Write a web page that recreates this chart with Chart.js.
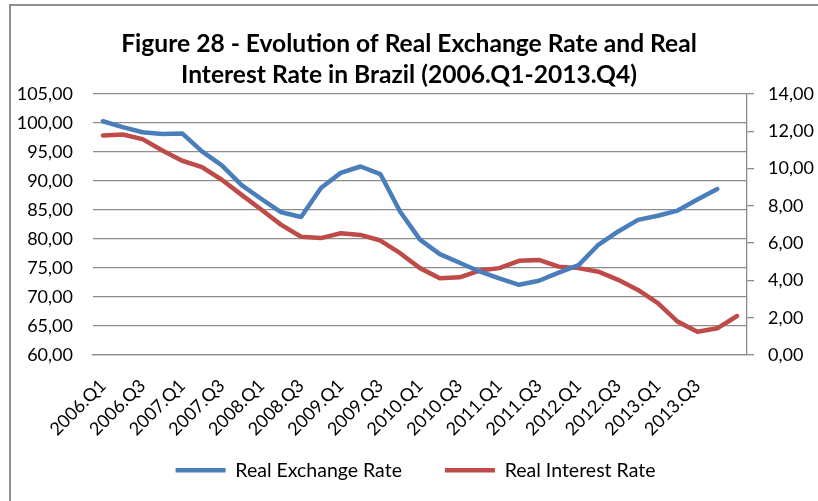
<!DOCTYPE html>
<html>
<head>
<meta charset="utf-8">
<script src="https://cdn.jsdelivr.net/npm/chart.js@4/dist/chart.umd.min.js"></script>
<style>
  html, body { margin: 0; padding: 0; background: #ffffff; }
  #wrap { position: relative; width: 818px; height: 501px; }
  canvas { display: block; }
</style>
</head>
<body>
<div id="wrap"><canvas id="c" width="818" height="501"></canvas></div>
<script>
// ---- Data ----
const categories = [
  "2006.Q1","2006.Q2","2006.Q3","2006.Q4",
  "2007.Q1","2007.Q2","2007.Q3","2007.Q4",
  "2008.Q1","2008.Q2","2008.Q3","2008.Q4",
  "2009.Q1","2009.Q2","2009.Q3","2009.Q4",
  "2010.Q1","2010.Q2","2010.Q3","2010.Q4",
  "2011.Q1","2011.Q2","2011.Q3","2011.Q4",
  "2012.Q1","2012.Q2","2012.Q3","2012.Q4",
  "2013.Q1","2013.Q2","2013.Q3","2013.Q4",
  ""
];
const realExchangeRate = [
  100.3, 99.3, 98.4, 98.1, 98.2, 95.1, 92.7, 89.3,
  86.9, 84.6, 83.8, 88.8, 91.4, 92.5, 91.2, 84.7,
  79.9, 77.4, 75.9, 74.4, 73.2, 72.1, 72.8, 74.2,
  75.5, 79.0, 81.3, 83.3, 84.0, 84.9, 86.8, 88.6,
  null
];
const realInterestRate = [
  11.78, 11.83, 11.58, 10.97, 10.42, 10.08, 9.40, 8.59,
  7.79, 6.98, 6.34, 6.27, 6.53, 6.44, 6.14, 5.46,
  4.66, 4.12, 4.17, 4.53, 4.66, 5.05, 5.10, 4.74,
  4.66, 4.47, 4.03, 3.49, 2.78, 1.79, 1.25, 1.43,
  2.09
];
const seriesNames = ["Real Exchange Rate", "Real Interest Rate"];
const titleLines = ["Figure 28 - Evolution of Real Exchange Rate and Real",
                    "Interest Rate in Brazil (2006.Q1-2013.Q4)"];
const leftTicks = { min: 60, max: 105, step: 5 };
const rightTicks = { min: 0, max: 14, step: 2 };

// ---- Styling ----
const BLUE = "#4a7ebb";
const RED = "#be4b48";
const GRID = "#8c8c8c";
const FONT = "Lato";

const fmt = v => Number(v).toFixed(2).replace(".", ",");

const framePlugin = {
  id: "frame",
  beforeDraw(chart) {
    const ctx = chart.ctx;
    ctx.save();
    ctx.fillStyle = "#ffffff";
    ctx.fillRect(0, 0, chart.width, chart.height);
    ctx.fillStyle = "#8e8e8e";
    ctx.fillRect(9, 4, 2, chart.height);
    ctx.fillRect(9, 4, chart.width, 2);
    ctx.restore();
  }
};

// place the legend row (horizontal item gap and vertical place are tied in Chart.js)
const legendShift = {
  id: "legendShift",
  afterLayout(chart) {
    const lg = chart.legend;
    if (lg) {
      lg.top -= 22.5; lg.bottom -= 22.5;
      lg.left += 6.5; lg.right += 6.5;
    }
  }
};

new Chart(document.getElementById("c"), {
  type: "line",
  data: {
    labels: categories,
    datasets: [
      {
        label: seriesNames[0],
        data: realExchangeRate,
        yAxisID: "y",
        borderColor: BLUE,
        backgroundColor: BLUE,
        borderWidth: 4.5,
        borderCapStyle: "round",
        borderJoinStyle: "round",
        pointRadius: 0,
        pointHoverRadius: 0,
        tension: 0,
        spanGaps: false
      },
      {
        label: seriesNames[1],
        data: realInterestRate,
        yAxisID: "y1",
        borderColor: RED,
        backgroundColor: RED,
        borderWidth: 4.5,
        borderCapStyle: "round",
        borderJoinStyle: "round",
        pointRadius: 0,
        pointHoverRadius: 0,
        tension: 0
      }
    ]
  },
  options: {
    responsive: false,
    animation: false,
    devicePixelRatio: 1,
    layout: { padding: { top: 0, left: 0, right: 0, bottom: -11.5 } },
    plugins: {
      tooltip: { enabled: false },
      title: {
        display: true,
        text: titleLines,
        color: "#000000",
        font: { family: FONT, size: 24.6, weight: "bold", lineHeight: 1.26 },
        padding: { top: 29, bottom: 3 }
      },
      legend: {
        display: true,
        position: "bottom",
        labels: {
          usePointStyle: true,
          pointStyle: "line",
          pointStyleWidth: 50,
          boxHeight: 19.5,
          padding: 43,
          color: "#000000",
          font: { family: FONT, size: 19.5 }
        }
      }
    },
    scales: {
      x: {
        type: "category",
        offset: true,
        grid: { display: false, drawTicks: false },
        border: { display: true, color: GRID, width: 1.3 },
        ticks: {
          autoSkip: false,
          minRotation: 45,
          maxRotation: 45,
          padding: 20,
          color: "#000000",
          font: { family: FONT, size: 18 },
          callback: function (val, i) {
            return i % 2 === 0 ? this.getLabelForValue(val) : "";
          }
        },
        afterFit(scale) { scale.height = 85; }
      },
      y: {
        position: "left",
        min: leftTicks.min,
        max: leftTicks.max,
        grid: { color: GRID, lineWidth: 1.3, drawTicks: false },
        border: { display: false },
        ticks: {
          stepSize: leftTicks.step,
          padding: 20,
          color: "#000000",
          font: { family: FONT, size: 18 },
          callback: v => fmt(v)
        },
        afterFit(scale) { scale.width = 93; }
      },
      y1: {
        position: "right",
        min: rightTicks.min,
        max: rightTicks.max,
        grid: { drawOnChartArea: false, color: GRID, lineWidth: 1.3, drawTicks: true, tickLength: 7 },
        border: { display: true, color: GRID, width: 1.3 },
        ticks: {
          stepSize: rightTicks.step,
          padding: 14,
          color: "#000000",
          font: { family: FONT, size: 18 },
          callback: v => fmt(v)
        },
        afterFit(scale) { scale.width = 71; }
      }
    }
  },
  plugins: [framePlugin, legendShift]
});
</script>
</body>
</html>
